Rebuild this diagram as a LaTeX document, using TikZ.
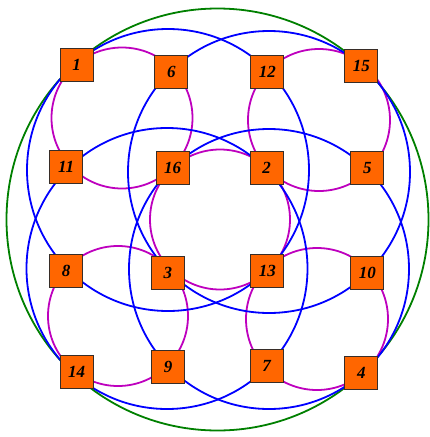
\documentclass[tikz,border=0pt]{standalone}
\usepackage{fontspec}
\setmainfont{Liberation Serif}
\definecolor{boxorange}{RGB}{255,102,0}
\definecolor{boxedge}{RGB}{55,45,40}
\definecolor{ringgreen}{RGB}{0,128,0}
\definecolor{ringblue}{RGB}{0,0,255}
\definecolor{ringmag}{RGB}{190,0,190}
\tikzset{
  pt/.style={draw=boxedge, line width=1pt, fill=boxorange, minimum size=33pt, inner sep=0pt,
    font=\fontsize{17}{17}\selectfont\bfseries\itshape},
  greenring/.style={draw=ringgreen, line width=1.8pt},
  bluering/.style={draw=ringblue, line width=1.8pt},
  magring/.style={draw=ringmag, line width=1.8pt},
}
\begin{document}
\begin{tikzpicture}[x=1pt,y=-1pt]
\fill[white] (0,0) rectangle (429,437);
\useasboundingbox (0,0) rectangle (429,437);
% ring centres
\coordinate (cG) at (217.5,219.5);
\coordinate (cA) at (168,170);
\coordinate (cB) at (269,172);
\coordinate (cC) at (167,268.5);
\coordinate (cD) at (269,269);
\coordinate (m1) at (122,118);
\coordinate (m2) at (319,120);
\coordinate (m3) at (118,316);
\coordinate (m4) at (317,319);
\coordinate (m5) at (220,219.5);
% green ring
\draw[greenring] (cG) circle[radius=211pt];
% magenta rings
\draw[magring] (m1) circle[radius=70.5pt];
\draw[magring] (m2) circle[radius=71pt];
\draw[magring] (m3) circle[radius=70pt];
\draw[magring] (m4) circle[radius=71pt];
\draw[magring] (m5) circle[radius=70pt];
% blue rings
\draw[bluering] (cA) circle[radius=141pt];
\draw[bluering] (cB) circle[radius=141pt];
\draw[bluering] (cC) circle[radius=140.5pt];
\draw[bluering] (cD) circle[radius=140pt];
% nodes
\node[pt] (n1)  at (76.7,65)    {1};
\node[pt] (n6)  at (171.3,71.7) {6};
\node[pt] (n12) at (267.3,71.7) {12};
\node[pt] (n15) at (361.3,66.3) {15};
\node[pt] (n11) at (66.2,167)   {11};
\node[pt] (n16) at (172.5,168.3){16};
\node[pt] (n2)  at (266.7,168.3){2};
\node[pt] (n5)  at (367.3,168)  {5};
\node[pt] (n8)  at (66.2,271.3) {8};
\node[pt] (n3)  at (167.8,273)  {3};
\node[pt] (n13) at (267.3,271.3){13};
\node[pt] (n10) at (367.3,273.3){10};
\node[pt] (n14) at (76.7,372)   {14};
\node[pt] (n9)  at (168.2,367)  {9};
\node[pt] (n7)  at (266.7,366.3){7};
\node[pt] (n4)  at (361.3,373)  {4};
\end{tikzpicture}
\end{document}
